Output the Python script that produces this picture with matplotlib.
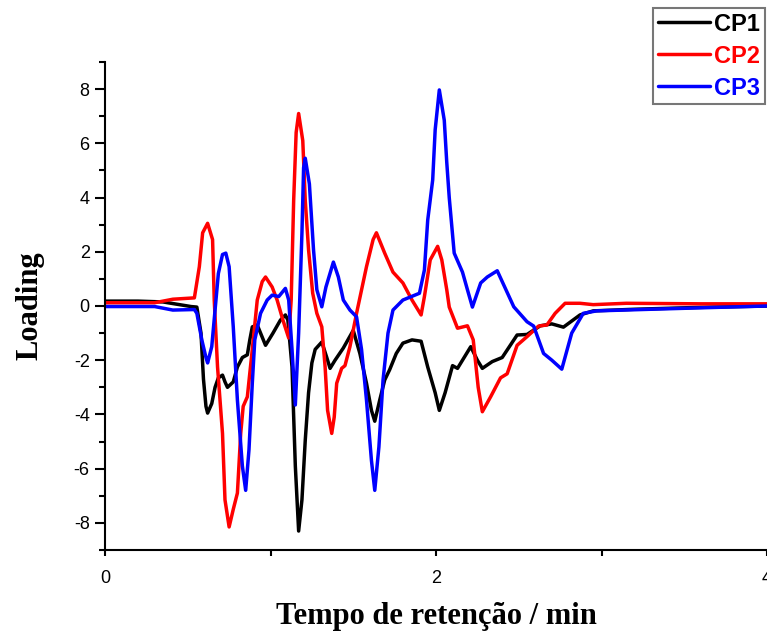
import matplotlib
matplotlib.use('Agg')
import matplotlib.pyplot as plt
from matplotlib.ticker import MultipleLocator

plt.rcParams['axes.unicode_minus'] = False

# retention time (min) and loadings
t_cp1 = [0.0, 0.20, 0.35, 0.45, 0.52, 0.555, 0.58, 0.595, 0.61, 0.62, 0.645, 0.665, 0.685,
         0.71, 0.725, 0.74, 0.775, 0.80, 0.83, 0.86, 0.875, 0.89, 0.92, 0.94, 0.97, 1.015,
         1.06, 1.09, 1.105, 1.13, 1.15, 1.17, 1.19, 1.21, 1.23, 1.25, 1.27, 1.31, 1.34, 1.36,
         1.39, 1.44, 1.50, 1.54, 1.58, 1.61, 1.63, 1.66, 1.69, 1.72, 1.76, 1.80, 1.855, 1.91,
         1.95, 1.995, 2.02, 2.055, 2.10, 2.13, 2.21, 2.25, 2.28, 2.34, 2.40, 2.49, 2.55, 2.63,
         2.70, 2.77, 2.87, 2.95, 3.2, 3.6, 4.0]
y_cp1 = [0.18, 0.18, 0.15, 0.05, -0.02, -0.04, -1.0, -2.7, -3.7, -3.95, -3.6, -3.0, -2.65,
         -2.55, -2.8, -3.0, -2.8, -2.25, -1.9, -1.8, -1.25, -0.77, -0.7, -1.0, -1.45, -1.0,
         -0.52, -0.33, -0.52, -2.25, -5.9, -8.3, -7.15, -4.95, -3.2, -2.1, -1.6, -1.33, -1.9,
         -2.3, -2.0, -1.55, -0.9, -1.75, -2.85, -3.85, -4.25, -3.47, -2.73, -2.35, -1.75,
         -1.37, -1.25, -1.3, -2.25, -3.2, -3.85, -3.2, -2.2, -2.3, -1.5, -2.0, -2.3, -2.05,
         -1.9, -1.07, -1.05, -0.73, -0.66, -0.78, -0.33, -0.18, -0.12, -0.05, 0.0]

t_cp2 = [0.0, 0.30, 0.41, 0.54, 0.57, 0.59, 0.62, 0.65, 0.66, 0.68, 0.71, 0.725, 0.75, 0.775,
         0.80, 0.82, 0.835, 0.86, 0.89, 0.92, 0.95, 0.97, 1.01, 1.04, 1.075, 1.11, 1.125,
         1.14, 1.155, 1.17, 1.195, 1.21, 1.23, 1.255, 1.28, 1.31, 1.33, 1.345, 1.37, 1.385,
         1.40, 1.43, 1.45, 1.48, 1.52, 1.58, 1.62, 1.64, 1.69, 1.74, 1.80, 1.855, 1.91, 1.93,
         1.965, 2.01, 2.035, 2.065, 2.08, 2.13, 2.19, 2.225, 2.255, 2.28, 2.33, 2.39, 2.43,
         2.49, 2.55, 2.62, 2.67, 2.72, 2.78, 2.87, 2.95, 3.15, 3.6, 4.0]
y_cp2 = [0.12, 0.12, 0.25, 0.3, 1.45, 2.7, 3.05, 2.45, 0.22, -2.25, -4.7, -7.15, -8.15, -7.5,
         -6.9, -4.7, -3.7, -3.35, -1.6, 0.22, 0.9, 1.07, 0.7, 0.22, -0.52, -1.18, 0.22, 3.9,
         6.4, 7.1, 6.1, 3.9, 2.07, 0.47, -0.27, -0.77, -2.25, -3.85, -4.7, -4.1, -2.85, -2.3,
         -2.2, -1.5, -0.27, 1.45, 2.45, 2.7, 1.95, 1.25, 0.85, 0.22, -0.33, 0.35, 1.7, 2.2,
         1.7, 0.6, -0.04, -0.82, -0.73, -1.25, -3.0, -3.9, -3.35, -2.65, -2.5, -1.45, -1.13,
         -0.74, -0.7, -0.27, 0.1, 0.1, 0.05, 0.1, 0.08, 0.08]

t_cp3 = [0.0, 0.30, 0.41, 0.54, 0.555, 0.585, 0.61, 0.62, 0.645, 0.665, 0.685, 0.71, 0.73,
         0.75, 0.775, 0.80, 0.83, 0.85, 0.87, 0.89, 0.905, 0.94, 0.98, 1.01, 1.05, 1.09, 1.11,
         1.13, 1.15, 1.17, 1.19, 1.20, 1.21, 1.235, 1.26, 1.28, 1.31, 1.335, 1.38, 1.41, 1.44,
         1.48, 1.52, 1.55, 1.58, 1.61, 1.63, 1.655, 1.68, 1.71, 1.74, 1.80, 1.90, 1.93, 1.95,
         1.98, 1.995, 2.02, 2.05, 2.065, 2.08, 2.11, 2.16, 2.19, 2.22, 2.27, 2.31, 2.37, 2.47,
         2.55, 2.59, 2.65, 2.70, 2.76, 2.82, 2.89, 2.97, 3.3, 3.7, 4.0]
y_cp3 = [-0.02, -0.02, -0.15, -0.13, -0.27, -1.25, -1.9, -2.1, -1.5, -0.15, 1.2, 1.9, 1.95,
         1.45, -0.77, -3.47, -5.9, -6.8, -5.3, -2.85, -1.25, -0.27, 0.22, 0.4, 0.35, 0.65,
         0.22, -1.6, -3.65, -1.0, 2.7, 5.1, 5.45, 4.5, 2.07, 0.6, -0.03, 0.7, 1.62, 1.07, 0.22,
         -0.15, -0.4, -1.6, -3.47, -5.7, -6.8, -5.2, -2.73, -1.0, -0.15, 0.22, 0.47, 1.33,
         3.17, 4.65, 6.5, 7.97, 6.85, 5.3, 4.0, 1.95, 1.25, 0.6, -0.04, 0.85, 1.07, 1.3, -0.03,
         -0.58, -0.74, -1.75, -2.0, -2.33, -1.0, -0.27, -0.18, -0.12, -0.05, 0.0]

W, H = 767, 634
fig = plt.figure(figsize=(W / 100, H / 100), dpi=100)
ax = fig.add_axes([105 / W, 1 - 550 / H, 1 - 105 / W, (550 - 62) / H])

kw = dict(lw=2.5, solid_joinstyle='round', solid_capstyle='round')
l1, = ax.plot(t_cp1, y_cp1, color='black', label='CP1', **kw)
l2, = ax.plot(t_cp2, y_cp2, color='red', label='CP2', **kw)
l3, = ax.plot(t_cp3, y_cp3, color='blue', label='CP3', **kw)

ax.set_xlim(0, 4)
ax.set_ylim(-9, 9)
ax.xaxis.set_major_locator(MultipleLocator(2))
ax.xaxis.set_minor_locator(MultipleLocator(1))
ax.yaxis.set_major_locator(MultipleLocator(2))
ax.yaxis.set_minor_locator(MultipleLocator(1))
for side in ['top', 'right']:
    ax.spines[side].set_visible(False)
for side in ['left', 'bottom']:
    ax.spines[side].set_linewidth(1.5)
ax.tick_params(which='both', direction='out', width=1.5, labelsize=13)
ax.tick_params(axis='y', which='major', length=7, pad=4)
ax.tick_params(axis='y', which='minor', length=4.5)
ax.tick_params(axis='x', which='both', length=4.5, pad=10)
for lab in ax.get_xticklabels() + ax.get_yticklabels():
    lab.set_fontfamily('Liberation Sans')

ax.set_xlabel('Tempo de retenção / min', fontfamily='Liberation Serif', fontweight='bold',
              fontsize=22, labelpad=11)
ax.set_ylabel('Loading', fontfamily='Liberation Serif', fontweight='bold', fontsize=22,
              labelpad=21)

leg = fig.legend(handles=[l1, l2, l3], loc='upper left', bbox_to_anchor=(653 / W, 1 - 8 / H),
                 prop={'family': 'Liberation Sans', 'weight': 'bold', 'size': 17},
                 frameon=True, fancybox=False, handlelength=2.2, handletextpad=0.2,
                 labelspacing=0.38, borderpad=0.2, borderaxespad=0)
leg.get_frame().set_edgecolor('#555555')
leg.get_frame().set_linewidth(1.5)
for txt, c in zip(leg.get_texts(), ['black', 'red', 'blue']):
    txt.set_color(c)

fig.savefig('out.png', dpi=100)
